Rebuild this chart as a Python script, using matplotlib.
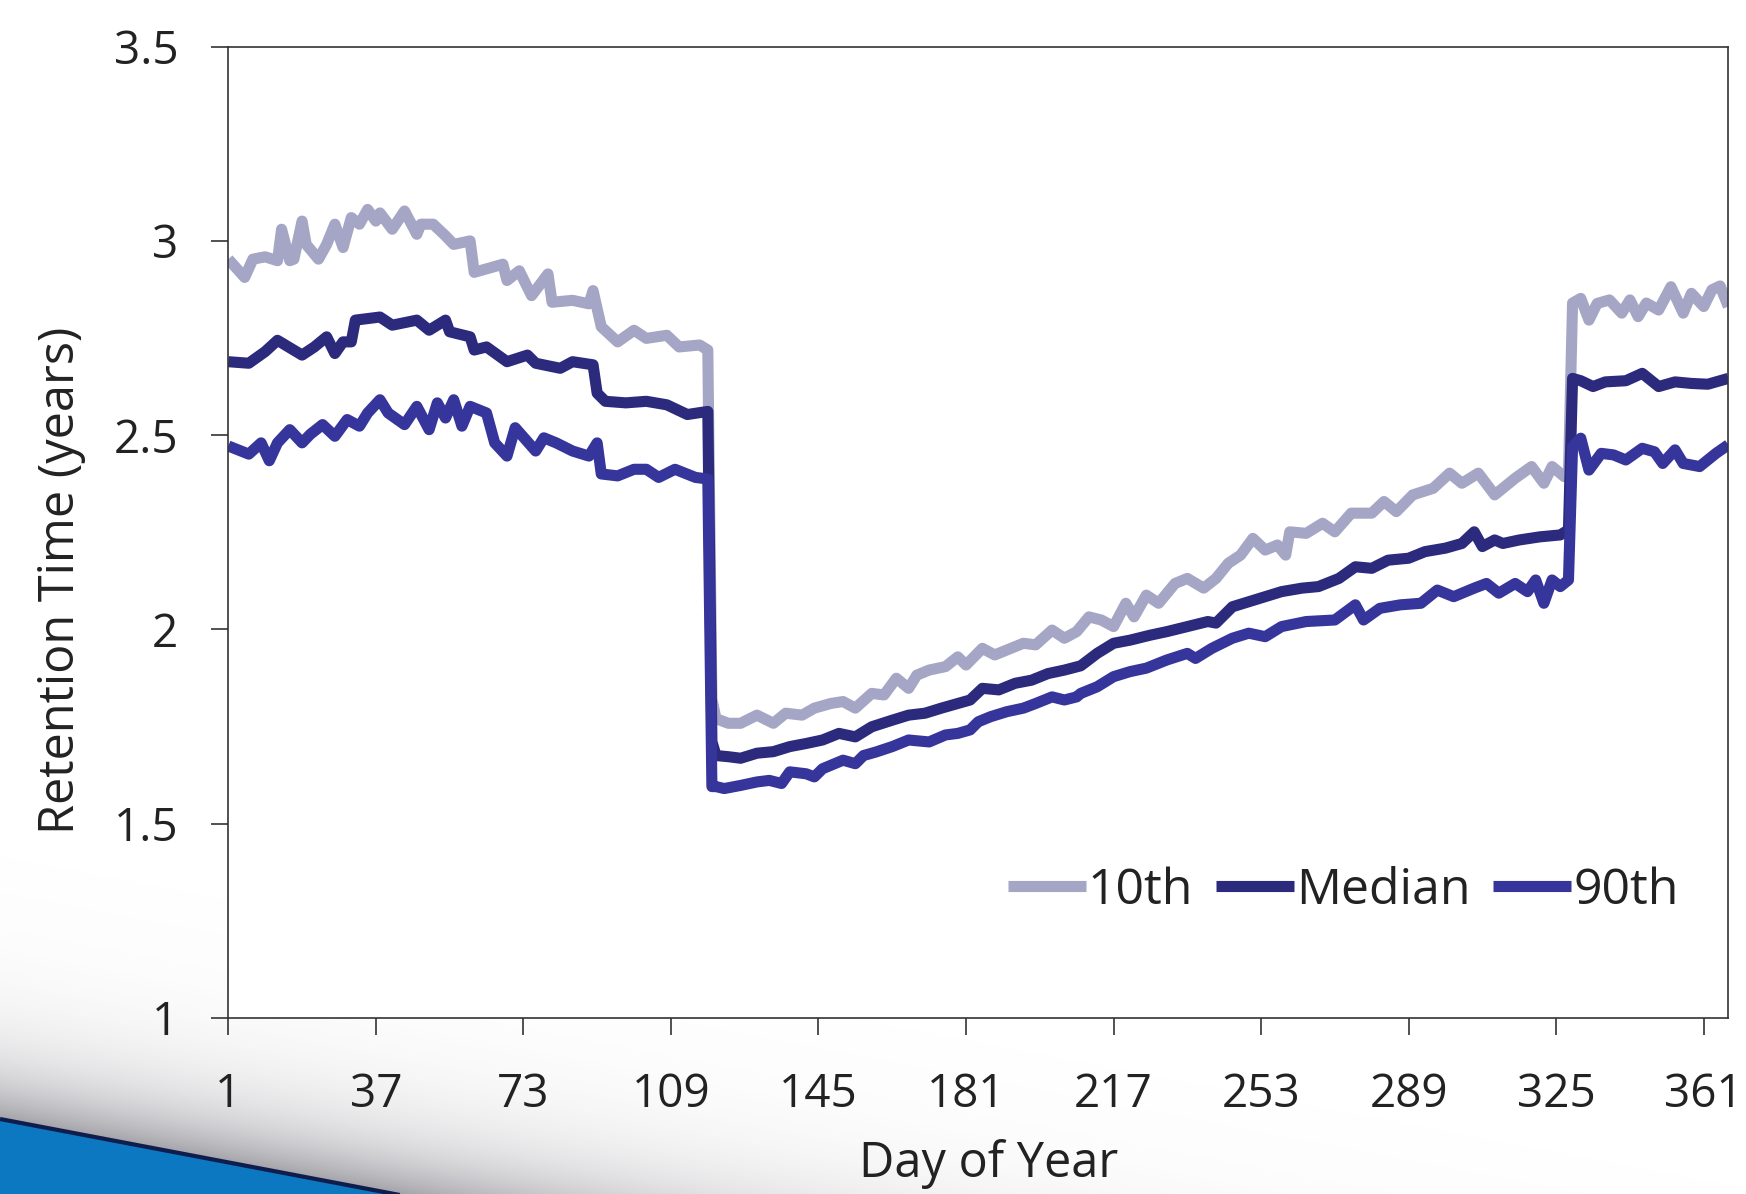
import numpy as np
import matplotlib
matplotlib.use("Agg")
import matplotlib.pyplot as plt
from matplotlib import font_manager as fm
from matplotlib.patches import Polygon

# ---------------- data ----------------
days_10th = [1, 5, 7, 10, 13, 14, 16, 17, 19, 20, 23, 25, 27, 29, 31, 33, 35, 37, 38, 41,
             44, 47, 48, 51, 54, 56, 60, 61, 64, 68, 69, 72, 75, 79, 80, 85, 89, 90, 92, 96,
             100, 103, 108, 111, 116, 118, 119, 120, 123, 126, 130, 134, 137, 141, 144, 148,
             151, 154, 158, 161, 164, 167, 169, 172, 176, 179, 181, 185, 188, 192, 195, 198,
             202, 205, 208, 211, 214, 217, 220, 222, 225, 228, 232, 235, 239, 242, 245, 248,
             251, 254, 257, 259, 260, 264, 268, 271, 275, 280, 283, 286, 290, 295, 299, 302,
             306, 310, 315, 319, 322, 324, 327, 328, 329, 331, 333, 335, 338, 341, 343, 345,
             347, 350, 353, 356, 358, 361, 363, 365, 367]
p10 = [2.953, 2.906, 2.953, 2.959, 2.949, 3.030, 2.949, 2.953, 3.051, 2.991, 2.953, 2.991,
       3.043, 2.983, 3.060, 3.043, 3.081, 3.051, 3.072, 3.030, 3.077, 3.017, 3.043, 3.043,
       3.013, 2.991, 3.000, 2.919, 2.928, 2.940, 2.898, 2.923, 2.859, 2.915, 2.842, 2.847,
       2.838, 2.872, 2.779, 2.740, 2.770, 2.749, 2.757, 2.727, 2.732, 2.719, 1.820, 1.770,
       1.758, 1.758, 1.779, 1.758, 1.784, 1.779, 1.797, 1.809, 1.814, 1.797, 1.835, 1.831,
       1.874, 1.848, 1.882, 1.895, 1.904, 1.929, 1.908, 1.951, 1.934, 1.951, 1.964, 1.960,
       1.998, 1.977, 1.994, 2.032, 2.024, 2.007, 2.067, 2.032, 2.088, 2.067, 2.118, 2.131,
       2.106, 2.131, 2.170, 2.191, 2.234, 2.204, 2.217, 2.191, 2.251, 2.247, 2.273, 2.251,
       2.299, 2.299, 2.329, 2.303, 2.346, 2.363, 2.402, 2.376, 2.402, 2.346, 2.389, 2.419,
       2.376, 2.419, 2.393, 2.400, 2.840, 2.852, 2.796, 2.839, 2.848, 2.814, 2.848, 2.805,
       2.840, 2.822, 2.882, 2.814, 2.865, 2.831, 2.874, 2.884, 2.831]

days_median = [1, 6, 10, 13, 19, 22, 25, 27, 29, 31, 32, 38, 41, 47, 50, 54, 55, 60, 61, 64,
               69, 74, 76, 82, 85, 90, 91, 93, 98, 103, 108, 113, 118, 119, 120, 123, 126,
               130, 134, 138, 142, 146, 150, 154, 158, 163, 167, 171, 175, 179, 182, 185,
               189, 193, 197, 201, 205, 209, 213, 217, 221, 226, 230, 235, 240, 242, 246,
               250, 254, 258, 263, 267, 272, 276, 280, 284, 289, 293, 298, 302, 305, 307,
               310, 312, 316, 321, 326, 328, 329, 331, 334, 337, 342, 346, 350, 354, 358,
               362, 367]
median = [2.689, 2.685, 2.715, 2.744, 2.706, 2.727, 2.753, 2.710, 2.740, 2.740, 2.796, 2.804,
          2.783, 2.796, 2.770, 2.796, 2.766, 2.753, 2.719, 2.727, 2.689, 2.706, 2.685, 2.672,
          2.689, 2.681, 2.608, 2.587, 2.583, 2.587, 2.578, 2.553, 2.561, 1.711, 1.675, 1.672,
          1.668, 1.681, 1.685, 1.698, 1.706, 1.715, 1.732, 1.723, 1.749, 1.766, 1.779, 1.784,
          1.797, 1.809, 1.818, 1.848, 1.844, 1.861, 1.869, 1.886, 1.895, 1.906, 1.938, 1.964,
          1.972, 1.985, 1.994, 2.007, 2.020, 2.016, 2.058, 2.071, 2.084, 2.097, 2.106, 2.110,
          2.131, 2.161, 2.157, 2.178, 2.183, 2.200, 2.209, 2.221, 2.251, 2.213, 2.230, 2.221,
          2.230, 2.238, 2.243, 2.256, 2.646, 2.640, 2.625, 2.637, 2.640, 2.659, 2.625, 2.637,
          2.633, 2.631, 2.646]

days_90th = [1, 6, 9, 11, 13, 16, 19, 21, 24, 27, 30, 33, 35, 38, 40, 44, 47, 50, 52, 54,
             56, 58, 60, 64, 66, 69, 71, 76, 78, 81, 85, 89, 91, 92, 96, 100, 103, 106, 110,
             115, 118, 119, 120, 122, 126, 130, 133, 136, 138, 142, 144, 146, 151, 154, 156,
             159, 163, 167, 172, 176, 179, 182, 184, 187, 191, 195, 198, 202, 205, 208, 209,
             213, 217, 221, 225, 230, 235, 237, 241, 246, 250, 254, 258, 264, 271, 276, 278,
             282, 287, 292, 296, 300, 305, 308, 311, 315, 318, 320, 322, 324, 326, 328, 329,
             331, 333, 336, 339, 342, 346, 349, 351, 354, 356, 360, 364, 367]
p90 = [2.472, 2.451, 2.480, 2.434, 2.480, 2.514, 2.480, 2.502, 2.527, 2.497, 2.540, 2.523,
       2.557, 2.591, 2.557, 2.527, 2.574, 2.514, 2.583, 2.544, 2.591, 2.523, 2.574, 2.557,
       2.480, 2.446, 2.519, 2.459, 2.493, 2.480, 2.459, 2.446, 2.480, 2.400, 2.395, 2.412,
       2.412, 2.391, 2.412, 2.391, 2.387, 1.595, 1.595, 1.590, 1.598, 1.607, 1.611, 1.603,
       1.633, 1.628, 1.620, 1.641, 1.663, 1.654, 1.675, 1.684, 1.698, 1.715, 1.710, 1.728,
       1.732, 1.741, 1.762, 1.775, 1.788, 1.797, 1.809, 1.826, 1.818, 1.826, 1.835, 1.852,
       1.878, 1.891, 1.900, 1.921, 1.938, 1.925, 1.951, 1.977, 1.990, 1.981, 2.007, 2.020,
       2.024, 2.063, 2.024, 2.054, 2.063, 2.067, 2.101, 2.084, 2.106, 2.118, 2.093, 2.118,
       2.097, 2.127, 2.067, 2.127, 2.110, 2.127, 2.470, 2.492, 2.410, 2.453, 2.449, 2.436,
       2.466, 2.457, 2.427, 2.462, 2.427, 2.419, 2.453, 2.475]

series_labels = ["10th", "Median", "90th"]
series_colors = ["#A5A6C6", "#2B2A7C", "#36359B"]
x_ticks = [1, 37, 73, 109, 145, 181, 217, 253, 289, 325, 361]
y_ticks = [1, 1.5, 2, 2.5, 3, 3.5]
y_tick_labels = ["1", "1.5", "2", "2.5", "3", "3.5"]
x_label = "Day of Year"
y_label = "Retention Time (years)"

# ---------------- fonts ----------------
avail = {f.name for f in fm.fontManager.ttflist}
FONT = "DejaVu Sans"
for cand in ["Open Sans", "Liberation Sans"]:
    if cand in avail:
        FONT = cand
        break
plt.rcParams["font.family"] = [FONT, "DejaVu Sans"]
FS_TICK = 33
FS_LEG = 36
FS_LAB = 35
TXT = "#222222"

W, H = 1746, 1194
fig = plt.figure(figsize=(W / 100, H / 100), dpi=100)
fig.patch.set_facecolor("white")

# ---------------- decorative swoosh (bottom-left) ----------------
bg = fig.add_axes([0, 0, 1, 1], zorder=0)
bg.set_xlim(0, W)
bg.set_ylim(H, 0)
bg.axis("off")
yy, xx = np.mgrid[0:H, 0:W].astype(float)
edge = 1119 + 0.19 * xx
d = edge - yy
shade = np.where(d > 0, 0.62 * np.exp(-d / 52.0), 0.0)
img = np.zeros((H, W, 4))
img[..., 0] = 0.40
img[..., 1] = 0.40
img[..., 2] = 0.44
img[..., 3] = shade
bg.imshow(img, extent=(0, W, H, 0), interpolation="bilinear", zorder=0)
bg.add_patch(Polygon([(0, 1119), (405, 1196), (0, 1196)], closed=True,
                     facecolor="#0B78C1", edgecolor="none", zorder=1))
bg.plot([0, 405], [1119, 1196], color="#0F1D4D", lw=3.0, zorder=2,
        solid_capstyle="butt")

# ---------------- main chart ----------------
ax = fig.add_axes([228.3 / W, 1 - 1017.7 / H, 1500 / W, 971 / H], zorder=1)
ax.set_facecolor("white")
for dx, vals, lab, col in zip([days_10th, days_median, days_90th], [p10, median, p90],
                              series_labels, series_colors):
    ax.plot(dx, vals, color=col, lw=8.0, label=lab, solid_joinstyle="round",
            solid_capstyle="butt")

ax.set_xlim(1, 367)
ax.set_ylim(1, 3.5)
ax.set_xticks(x_ticks)
ax.set_xticklabels([str(t) for t in x_ticks])
ax.set_yticks(y_ticks)
ax.set_yticklabels(y_tick_labels)
for s in ax.spines.values():
    s.set_color("#333333")
    s.set_linewidth(1.2)
ax.tick_params(axis="x", direction="out", length=12, width=1.2, color="#333333",
               pad=27, labelsize=FS_TICK, labelcolor=TXT)
ax.tick_params(axis="y", direction="out", length=12, width=1.2, color="#333333",
               pad=24, labelsize=FS_TICK, labelcolor=TXT)

leg = ax.legend(loc="center left", bbox_to_anchor=(1008 / W, 1 - 891 / H),
                bbox_transform=fig.transFigure, ncol=3, frameon=False,
                fontsize=FS_LEG, handlelength=1.55, handletextpad=0.05,
                columnspacing=0.45, borderpad=0, borderaxespad=0)
for t in leg.get_texts():
    t.set_color(TXT)

fig.text(989 / W, 1 - 1164 / H, x_label, ha="center", va="center", fontsize=FS_LAB, color=TXT)
fig.text(61 / W, 1 - 580 / H, y_label, ha="center", va="center", rotation=90,
         fontsize=FS_LAB, color=TXT)

fig.savefig("out.png", dpi=100)
